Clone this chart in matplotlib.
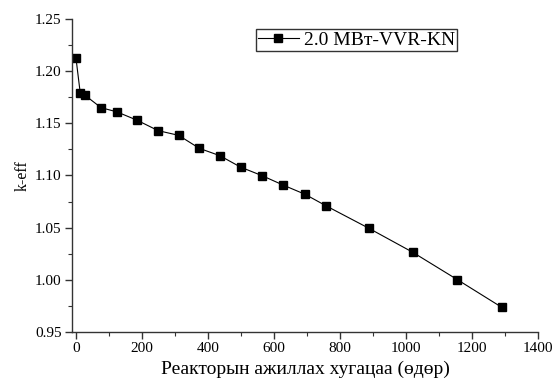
import matplotlib
matplotlib.use("Agg")
import matplotlib.pyplot as plt
from matplotlib.ticker import MultipleLocator, FormatStrFormatter

days = [0, 13, 27, 76, 124, 185, 249, 311, 374, 436, 499, 565, 628, 694, 758, 887, 1020, 1155, 1290]
keff = [1.2126, 1.179, 1.177, 1.165, 1.161, 1.153, 1.143, 1.1385, 1.126, 1.119, 1.108, 1.0997,
        1.0908, 1.082, 1.0709, 1.0495, 1.0265, 1.0003, 0.9737]
series_label = "2.0 MBт-VVR-KN"
xlabel = "Реакторын ажиллах хугацаа (өдөр)"
ylabel = "k-eff"

plt.rcParams['font.family'] = ['Liberation Serif', 'DejaVu Serif']

fig = plt.figure(figsize=(5.55, 3.8), dpi=100)
ax = fig.add_axes([72/555, 48/380, (538-72)/555, (332-19)/380])

ax.plot(days, keff, color='black', linewidth=0.8, marker='s', markersize=5.2,
        markerfacecolor='black', markeredgecolor='black', label=series_label)

ax.set_xlim(-12, 1400)
ax.set_ylim(0.95, 1.25)
ax.xaxis.set_major_locator(MultipleLocator(200))
ax.xaxis.set_minor_locator(MultipleLocator(100))
ax.yaxis.set_major_locator(MultipleLocator(0.05))
ax.yaxis.set_minor_locator(MultipleLocator(0.025))
ax.yaxis.set_major_formatter(FormatStrFormatter('%.2f'))

for s in ['top', 'right']:
    ax.spines[s].set_visible(False)
for s in ['left', 'bottom']:
    ax.spines[s].set_linewidth(1.0)
    ax.spines[s].set_color('#333333')

ax.tick_params(which='major', direction='out', length=5, width=1.0, labelsize=11,
               color='#333333', pad=2.5)
ax.tick_params(which='minor', direction='out', length=3, width=0.8, color='#333333')

ax.set_xlabel(xlabel, fontsize=14, labelpad=4)
ax.set_ylabel(ylabel, fontsize=11.5, labelpad=3)

leg = ax.legend(loc='upper left', bbox_to_anchor=(256/555, 1 - 29/380),
                bbox_transform=fig.transFigure, fontsize=14, frameon=True,
                fancybox=False, borderpad=0.1, handlelength=2.1, handletextpad=0.25,
                borderaxespad=0)
leg.get_frame().set_edgecolor('black')
leg.get_frame().set_linewidth(1.0)

fig.savefig("out.png", dpi=100)
